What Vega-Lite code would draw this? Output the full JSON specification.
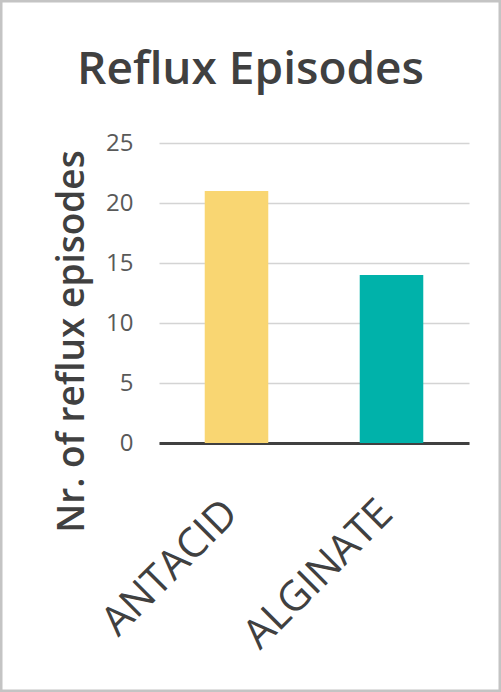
{
  "$schema": "https://vega.github.io/schema/vega-lite/v6.json",
  "width": 501,
  "height": 692,
  "autosize": "none",
  "padding": 0,
  "background": "white",
  "title": {
    "text": "Reflux Episodes",
    "font": "Open Sans",
    "fontSize": 46,
    "fontWeight": 600,
    "color": "#404040",
    "anchor": "middle",
    "baseline": "alphabetic",
    "offset": -84,
    "dy": 46
  },
  "data": {
    "values": [
      {"treatment": "ANTACID", "episodes": 21},
      {"treatment": "ALGINATE", "episodes": 14}
    ]
  },
  "mark": {"type": "bar", "width": {"band": 0.41}},
  "encoding": {
    "x": {
      "field": "treatment",
      "type": "nominal",
      "sort": null,
      "scale": {"range": [159, 469], "paddingInner": 0, "paddingOuter": 0},
      "axis": {
        "title": null,
        "orient": "bottom",
        "offset": -249,
        "domainColor": "#404040",
        "domainWidth": 3,
        "ticks": false,
        "labelAngle": -45,
        "labelAlign": "right",
        "labelBaseline": "middle",
        "labelPadding": 64,
        "labelOffset": -5,
        "labelLimit": 0,
        "labelFont": "Open Sans",
        "labelFontSize": 41,
        "labelColor": "#404040",
        "grid": false
      }
    },
    "y": {
      "field": "episodes",
      "type": "quantitative",
      "scale": {"domain": [0, 25], "range": [443, 143], "nice": false},
      "axis": {
        "orient": "left",
        "offset": -159,
        "values": [0, 5, 10, 15, 20, 25],
        "domain": false,
        "ticks": false,
        "labelFont": "Open Sans",
        "labelFontSize": 24,
        "labelColor": "#595959",
        "labelPadding": 26,
        "gridColor": "#d4d4d4",
        "gridWidth": 1.5,
        "title": "Nr. of reflux episodes",
        "titleFont": "Open Sans",
        "titleFontSize": 37,
        "titleFontWeight": 600,
        "titleColor": "#404040",
        "titleAngle": -90,
        "titleAlign": "center",
        "titleBaseline": "alphabetic",
        "titleX": -76,
        "titleY": 341
      }
    },
    "color": {
      "field": "treatment",
      "type": "nominal",
      "scale": {"domain": ["ANTACID", "ALGINATE"], "range": ["#F9D672", "#00B2AA"]},
      "legend": null
    }
  },
  "config": {
    "view": {"stroke": "#c4c4c4", "strokeWidth": 5}
  }
}
